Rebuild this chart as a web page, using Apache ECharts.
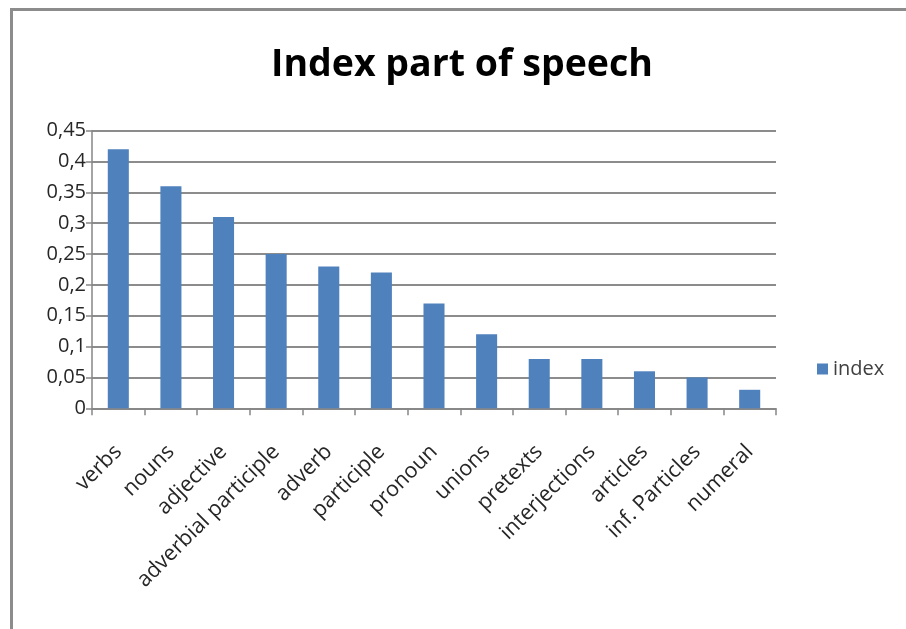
<!DOCTYPE html>
<html>
<head>
<meta charset="utf-8">
<script src="https://cdn.jsdelivr.net/npm/echarts@6/dist/echarts.min.js"></script>
<style>
html,body{margin:0;padding:0;background:#fff;}
#frame{position:absolute;left:10px;top:8px;width:906px;height:629px;border-left:3px solid #8c8c8c;border-top:3px solid #8c8c8c;}
#chart{position:absolute;left:0;top:0;width:906px;height:629px;}
</style>
</head>
<body>
<div id="frame"></div>
<div id="chart"></div>
<script>
const categories = ["verbs","nouns","adjective","adverbial participle","adverb","participle","pronoun","unions","pretexts","interjections","articles","inf. Particles","numeral"];
const indexValues = [0.42,0.36,0.31,0.25,0.23,0.22,0.17,0.12,0.08,0.08,0.06,0.05,0.03];
const yTicks = [0,0.05,0.1,0.15,0.2,0.25,0.3,0.35,0.4,0.45];

const chart = echarts.init(document.getElementById('chart'));
chart.setOption({
  backgroundColor: 'transparent',
  animation: false,
  title: {
    text: 'Index part of speech',
    left: 266,
    top: 41,
    textStyle: {fontFamily: 'Open Sans', fontWeight: 'bold', fontSize: 37.5, color: '#000'}
  },
  legend: {
    orient: 'vertical',
    left: 812,
    top: 354,
    itemWidth: 11,
    itemHeight: 11,
    itemGap: 6,
    icon: 'rect',
    textStyle: {fontFamily: 'Open Sans', fontSize: 20, color: '#404040'},
    data: ['index']
  },
  grid: {left: 92, right: 130, top: 130.7, bottom: 220.7, containLabel: false},
  xAxis: {
    type: 'category',
    data: categories,
    axisLine: {lineStyle: {color: '#868686', width: 1.5}},
    axisTick: {show: true, length: 7, lineStyle: {color: '#868686', width: 1.5}},
    axisLabel: {rotate: 45, interval: 0, fontFamily: 'Open Sans', fontSize: 21.5, color: '#262626', margin: 40}
  },
  yAxis: {
    type: 'value',
    min: 0,
    max: 0.45,
    interval: 0.05,
    axisLine: {show: true, lineStyle: {color: '#868686', width: 1.5}},
    axisTick: {show: true, length: 6, inside: false, lineStyle: {color: '#868686', width: 1.5}},
    splitLine: {lineStyle: {color: '#8c8c8c', width: 2}},
    axisLabel: {
      fontFamily: 'Open Sans', fontSize: 20, color: '#262626', margin: 6,
      formatter: v => {
        const t = yTicks.find(x => Math.abs(x - v) < 1e-9);
        return String(t !== undefined ? t : v).replace('.', ',');
      }
    }
  },
  series: [{
    name: 'index',
    type: 'bar',
    data: indexValues,
    barWidth: '40%',
    itemStyle: {color: '#4f81bd'}
  }]
});
</script>
</body>
</html>
